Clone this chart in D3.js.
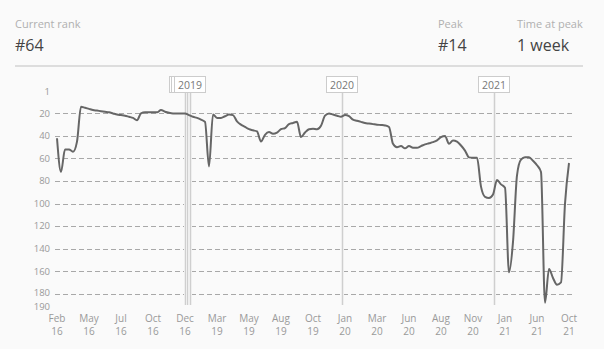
<!DOCTYPE html>
<html>
<head>
<meta charset="utf-8">
<script src="https://cdn.jsdelivr.net/npm/d3@7"></script>
<style>
  body { margin: 0; background: #fafafa; }
  text { font-family: "Open Sans", Roboto, sans-serif; }
</style>
</head>
<body>
<div id="chart"></div>
<script>
// weekly chart rank, one value per plotted week
const ranks = [42, 72, 52, 52, 54, 45, 14, 15, 16, 17,
    17.5, 18, 18.5, 19, 20, 21, 21.5, 22, 23, 24,
    26, 20, 19, 19, 19, 19, 17, 18.5, 19.5, 20,
    20, 20, 20, 21.5, 23, 24, 25.5, 27.5, 67, 21,
    24, 24, 22.5, 21, 21.5, 27, 30, 32, 34, 35,
    36, 45, 39, 36.5, 38, 37, 34, 33, 29.5, 28.5,
    27.5, 41, 37, 34, 33.5, 34, 31, 22, 20, 21,
    22, 23, 21.5, 22.5, 25.5, 26.5, 27.5, 28.5, 29, 29.5,
    30, 30.3, 30.7, 32, 47, 50, 49, 51, 49, 50.5,
    50.5, 49, 47.5, 46.5, 45.5, 44, 41, 40, 47, 44,
    45, 48.5, 53, 59, 59.4, 59.4, 85, 94, 95, 92,
    79, 83, 86, 161, 134, 75, 61, 59, 59, 62,
    66, 72, 188, 158, 166, 172, 170, 100, 64];

const monthLabels = ["Feb", "May", "Jul", "Oct", "Dec", "Mar", "May", "Aug", "Oct",
    "Jan", "Mar", "Jun", "Aug", "Nov", "Jan", "Jun", "Oct"];
const yearLabels = ["16", "16", "16", "16", "16", "19", "19", "19", "19",
    "20", "20", "20", "20", "20", "21", "21", "21"];
const tickIndex = [0, 8, 16, 24, 32, 40, 48, 56, 64, 72, 80, 88, 96, 104, 112, 120, 128];

const rankTicks = [1, 20, 40, 60, 80, 100, 120, 140, 160, 180, 190];
const gridTicks = [20, 40, 60, 80, 100, 120, 140, 160, 180];

// 2017 and 2018 sit right behind 2019, only their box edges show
const yearNames = ["2017", "2018", "2019", "2020", "2021"];
const yearIndex = [32, 32.6, 33.2, 71.25, 109.25];
const yearHidden = [true, true, false, false, false];

const headerLabels = ["Current rank", "Peak", "Time at peak"];
const headerValues = ["#64", "#14", "1 week"];

const W = 604, H = 349;
const svg = d3.select("#chart").append("svg")
    .attr("width", W)
    .attr("height", H);

// header
const headerX = [15, 438, 517];
headerLabels.forEach(function(t, i) {
    svg.append("text").attr("x", headerX[i]).attr("y", 28)
        .style("font-size", "11px").style("fill", "#b0b0b0").text(t);
    svg.append("text").attr("x", headerX[i]).attr("y", 51)
        .style("font-size", "16px").style("fill", "#444").text(headerValues[i]);
});
svg.append("line")
    .attr("x1", 15).attr("x2", 583).attr("y1", 66).attr("y2", 66)
    .style("stroke", "#ddd").style("stroke-width", 2);

const x = d3.scaleLinear()
    .domain([0, ranks.length - 1])
    .range([57, 569]);

const y = d3.scaleLinear()
    .domain([1, 190])
    .range([92, 305]);

// grid lines
svg.append("g")
    .selectAll("line")
    .data(gridTicks)
    .join("line")
    .attr("x1", 55).attr("x2", 572)
    .attr("y1", function(d) { return Math.round(y(d)) + 0.5; })
    .attr("y2", function(d) { return Math.round(y(d)) + 0.5; })
    .style("stroke", "#a8a8a8")
    .style("stroke-dasharray", "5,3");

// y axis labels (180 and 190 nudged apart a little so they don't collide)
svg.append("g")
    .selectAll("text")
    .data(rankTicks)
    .join("text")
    .attr("x", 50)
    .attr("y", function(d) { return y(d); })
    .attr("dy", function(d) { return d == 190 ? "0.55em" : d == 180 ? "0.2em" : "0.35em"; })
    .style("text-anchor", "end")
    .style("font-size", "9.5px")
    .style("fill", "#999")
    .text(function(d) { return d; });

// year markers
const years = svg.append("g");
yearIndex.forEach(function(v) {
    const px = Math.round(x(v)) + 0.5;
    years.append("line")
        .attr("x1", px).attr("x2", px).attr("y1", 80).attr("y2", 305)
        .style("stroke", "#efefef").style("stroke-width", 3);
});
yearIndex.forEach(function(v) {
    const px = Math.round(x(v)) + 0.5;
    years.append("line")
        .attr("x1", px).attr("x2", px).attr("y1", 80).attr("y2", 305)
        .style("stroke", "#cfcfcf").style("stroke-width", 1);
});
yearIndex.forEach(function(v, i) {
    const px = Math.round(x(v));
    years.append("rect")
        .attr("x", px - 15.5).attr("y", 76.5).attr("width", 31).attr("height", 16)
        .style("fill", "#fff").style("stroke", "#ccc");
    if (!yearHidden[i]) {
        years.append("text")
            .attr("x", px).attr("y", 88.5)
            .style("text-anchor", "middle")
            .style("font-size", "10.5px").style("fill", "#777")
            .text(yearNames[i]);
    }
});

// x axis labels
const xl = svg.append("g");
tickIndex.forEach(function(t, i) {
    xl.append("text").attr("x", x(t)).attr("y", 322)
        .style("text-anchor", "middle").style("font-size", "10px").style("fill", "#999")
        .text(monthLabels[i]);
    xl.append("text").attr("x", x(t)).attr("y", 335)
        .style("text-anchor", "middle").style("font-size", "10px").style("fill", "#999")
        .text(yearLabels[i]);
});

// rank line
const rankLine = d3.line()
    .x(function(d, i) { return x(i); })
    .y(function(d) { return y(d); })
    .curve(d3.curveMonotoneX);

svg.append("path")
    .attr("d", rankLine(ranks))
    .style("fill", "none")
    .style("stroke", "#666")
    .style("stroke-width", 2);
</script>
</body>
</html>
